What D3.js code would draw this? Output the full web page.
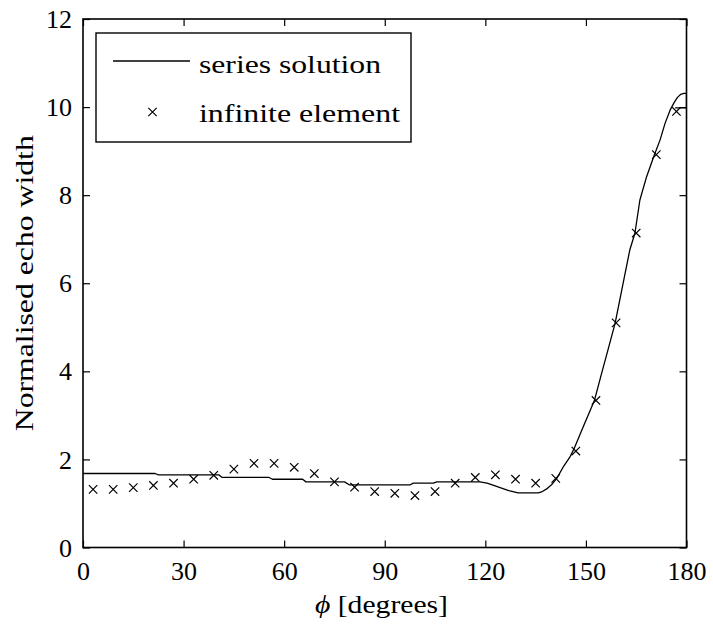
<!DOCTYPE html>
<html>
<head>
<meta charset="utf-8">
<script src="https://cdn.jsdelivr.net/npm/d3@7"></script>
</head>
<body style="margin:0">
<svg id="chart" width="713" height="625" style="display:block;background:#fff"></svg>
<script>
// ---- data ----
const xTicks = [0, 30, 60, 90, 120, 150, 180];
const yTicks = [0, 2, 4, 6, 8, 10, 12];

// series solution (angle in degrees, normalised echo width)
const seriesAngle = [0, 21.5, 22.5, 40.5, 41.5, 55.5, 56.5, 65.5, 66.5, 78, 79.5, 97.5, 98.5, 104.5, 105.5, 118.4,
  120.5, 122.5, 124.4, 127, 129.8, 135.8, 137, 138.3, 139.8, 141.3, 143.4, 145.2, 146.5, 149.2, 152.5, 154.7,
  156.7, 158.7, 160.7, 163.1, 164.6, 166.1, 168.1, 170.4, 172.1, 173.6, 175.1, 176.3, 177.3, 178.3, 179.2, 180,
  180, 176.6];
const seriesValue = [1.68, 1.68, 1.65, 1.65, 1.59, 1.59, 1.55, 1.55, 1.49, 1.49, 1.42, 1.42, 1.46, 1.46, 1.49, 1.49,
  1.46, 1.41, 1.36, 1.29, 1.24, 1.24, 1.27, 1.33, 1.43, 1.57, 1.85, 2.05, 2.25, 2.74, 3.33, 3.96,
  4.52, 5.09, 5.85, 6.76, 7.13, 7.89, 8.42, 8.91, 9.25, 9.63, 9.93, 10.1, 10.22, 10.29, 10.31, 10.31,
  9.98, 9.98];

// infinite element results
const feAngle = [3, 9, 15, 21, 27, 33, 39, 45, 51, 57, 63, 69, 75, 81, 87, 93, 99, 105, 111, 117, 123, 129, 135,
  141, 147, 153, 159, 165, 171, 177];
const feValue = [1.32, 1.32, 1.36, 1.41, 1.46, 1.55, 1.64, 1.78, 1.91, 1.91, 1.82, 1.68, 1.49, 1.37, 1.27, 1.23,
  1.18, 1.27, 1.46, 1.59, 1.65, 1.55, 1.46, 1.57, 2.19, 3.34, 5.10, 7.14, 8.92, 9.90];

const legendLabels = ["series solution", "infinite element"];

// ---- layout ----
const FONT = "Tinos";
const svg = d3.select("#chart");
const L = 83, R = 686.5, T = 19, B = 547.5;
const x = d3.scaleLinear().domain([0, 180]).range([L, R]);
const y = d3.scaleLinear().domain([0, 12]).range([B, T]);
const tickLen = 7;
const fs = 26;

// frame
svg.append("rect")
  .attr("x", L).attr("y", T).attr("width", R - L).attr("height", B - T)
  .attr("fill", "none").attr("stroke", "#000").attr("stroke-width", 1.6);

// axes with inward ticks on all four sides
const axB = svg.append("g").attr("transform", `translate(0,${B})`)
  .call(d3.axisBottom(x).tickValues(xTicks).tickSizeInner(-tickLen).tickSizeOuter(0).tickPadding(14));
const axT = svg.append("g").attr("transform", `translate(0,${T})`)
  .call(d3.axisTop(x).tickValues(xTicks).tickSizeInner(-tickLen).tickSizeOuter(0).tickFormat(""));
const axL = svg.append("g").attr("transform", `translate(${L},0)`)
  .call(d3.axisLeft(y).tickValues(yTicks).tickSizeInner(-tickLen).tickSizeOuter(0).tickPadding(11));
const axR = svg.append("g").attr("transform", `translate(${R},0)`)
  .call(d3.axisRight(y).tickValues(yTicks).tickSizeInner(-tickLen).tickSizeOuter(0).tickFormat(""));

[axB, axT, axL, axR].forEach(g => {
  g.attr("font-family", FONT).attr("font-size", fs);
  g.select(".domain").remove();
  g.selectAll(".tick line").attr("stroke", "#000").attr("stroke-width", 1.2);
  g.selectAll(".tick text").attr("fill", "#000").attr("font-family", FONT).attr("font-size", fs);
});
axB.selectAll(".tick text").attr("dy", "0.71em");
axL.selectAll(".tick text").attr("dy", "0.33em");

// axis labels
svg.append("text")
  .attr("x", 315).attr("y", 613)
  .attr("font-family", FONT).attr("font-size", fs)
  .attr("textLength", 133).attr("lengthAdjust", "spacingAndGlyphs")
  .html('<tspan font-style="italic">\u03D5</tspan> [degrees]');

svg.append("text")
  .attr("transform", `translate(33,${(T + B) / 2}) rotate(-90)`)
  .attr("text-anchor", "middle")
  .attr("font-family", FONT).attr("font-size", fs)
  .attr("textLength", 296).attr("lengthAdjust", "spacingAndGlyphs")
  .text("Normalised echo width");

// clip
svg.append("clipPath").attr("id", "clip")
  .append("rect").attr("x", L).attr("y", T).attr("width", R - L).attr("height", B - T);

// series line
const seriesData = seriesAngle.map((a, i) => [a, seriesValue[i]]);
svg.append("path")
  .datum(seriesData)
  .attr("clip-path", "url(#clip)")
  .attr("fill", "none").attr("stroke", "#000").attr("stroke-width", 1.3)
  .attr("stroke-linejoin", "round")
  .attr("d", d3.line().x(d => x(d[0])).y(d => y(d[1])));

// crosses
const cs = 4.2;
const crossPath = (cx, cy) => `M${cx - cs},${cy - cs}L${cx + cs},${cy + cs}M${cx - cs},${cy + cs}L${cx + cs},${cy - cs}`;
svg.append("g").selectAll("path")
  .data(feAngle.map((a, i) => [a, feValue[i]]))
  .join("path")
  .attr("d", d => crossPath(x(d[0]), y(d[1])))
  .attr("stroke", "#000").attr("stroke-width", 1.2).attr("fill", "none");

// legend
const lg = svg.append("g");
lg.append("rect").attr("x", 96).attr("y", 33).attr("width", 315).attr("height", 109)
  .attr("fill", "#fff").attr("stroke", "#000").attr("stroke-width", 1.4);
lg.append("line").attr("x1", 113).attr("x2", 190).attr("y1", 61).attr("y2", 61)
  .attr("stroke", "#000").attr("stroke-width", 1.3);
lg.append("path").attr("d", crossPath(152.5, 112)).attr("stroke", "#000").attr("stroke-width", 1.2);
lg.append("text").attr("x", 199).attr("y", 73)
  .attr("font-family", FONT).attr("font-size", fs)
  .attr("textLength", 182).attr("lengthAdjust", "spacingAndGlyphs")
  .text(legendLabels[0]);
lg.append("text").attr("x", 199).attr("y", 122)
  .attr("font-family", FONT).attr("font-size", fs)
  .attr("textLength", 201).attr("lengthAdjust", "spacingAndGlyphs")
  .text(legendLabels[1]);
</script>
</body>
</html>
